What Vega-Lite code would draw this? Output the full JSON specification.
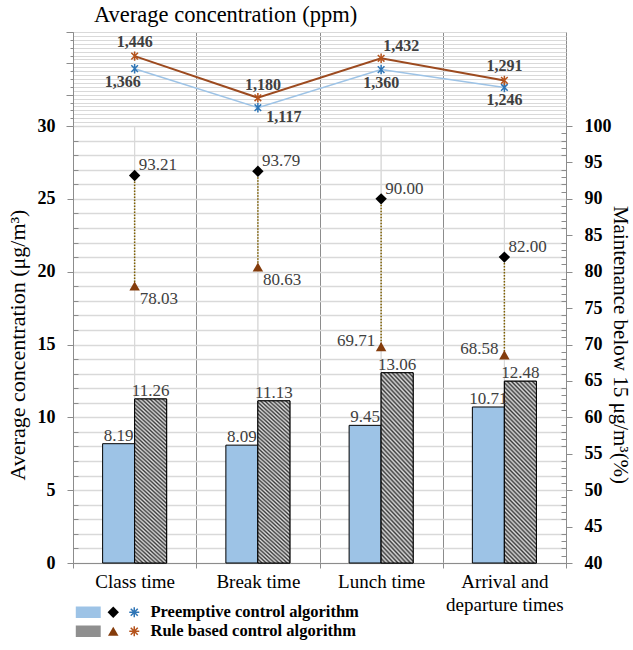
{
  "$schema": "https://vega.github.io/schema/vega-lite/v6.json",
  "padding": {"left": 5, "top": 3, "right": 0, "bottom": 5},
  "bounds": "flush",
  "config": {
    "font": "Liberation Serif",
    "view": {"stroke": "#a6a6a6"},
    "axis": {"labelFont": "Liberation Serif", "titleFont": "Liberation Serif"},
    "legend": {"labelFont": "Liberation Serif", "labelFontSize": 16.5, "labelFontWeight": "bold", "labelColor": "#000000", "rowPadding": 2, "labelLimit": 400}
  },
  "datasets": {
    "vals": [
      {"cat": "Class time", "alg": "Preemptive control algorithm", "pm": 8.19, "pct": 93.21, "ppm": 1366},
      {"cat": "Class time", "alg": "Rule based control algorithm", "pm": 11.26, "pct": 78.03, "ppm": 1446},
      {"cat": "Break time", "alg": "Preemptive control algorithm", "pm": 8.09, "pct": 93.79, "ppm": 1117},
      {"cat": "Break time", "alg": "Rule based control algorithm", "pm": 11.13, "pct": 80.63, "ppm": 1180},
      {"cat": "Lunch time", "alg": "Preemptive control algorithm", "pm": 9.45, "pct": 90.00, "ppm": 1360},
      {"cat": "Lunch time", "alg": "Rule based control algorithm", "pm": 13.06, "pct": 69.71, "ppm": 1432},
      {"cat": "Arrival and departure times", "alg": "Preemptive control algorithm", "pm": 10.71, "pct": 82.00, "ppm": 1246},
      {"cat": "Arrival and departure times", "alg": "Rule based control algorithm", "pm": 12.48, "pct": 68.58, "ppm": 1291}
    ]
  },
  "spacing": 0,
  "vconcat": [
    {
      "width": 493,
      "height": 94,
      "title": {"text": "Average concentration (ppm)", "anchor": "start", "frame": "group", "dx": 21, "fontSize": 22.5, "fontWeight": "normal", "font": "Liberation Serif", "color": "#000000", "offset": 5},
      "data": {"name": "vals"},
      "encoding": {
        "x": {"field": "cat", "type": "nominal", "sort": ["Class time", "Break time", "Lunch time", "Arrival and departure times"],
          "scale": {"type": "band", "paddingInner": 0, "paddingOuter": 0},
          "axis": {"title": null, "labels": false, "ticks": false, "domain": false, "grid": true, "tickBand": "extent", "gridColor": "#8c8c8c"}},
        "y": {"field": "ppm", "type": "quantitative", "scale": {"domain": [1000, 1600], "nice": false, "zero": false},
          "axis": {"title": null, "labels": false, "values": [1000,1025,1050,1075,1100,1125,1150,1175,1200,1225,1250,1275,1300,1325,1350,1375,1400,1425,1450,1475,1500,1525,1550,1575,1600],
            "grid": true, "gridColor": "#d9d9d9", "domainColor": "#8c8c8c", "tickColor": "#8c8c8c",
            "tickSize": {"condition": [{"test": "datum.value % 200 === 0", "value": 7}, {"test": "datum.value % 50 === 0", "value": 3}], "value": 0}}}
      },
      "layer": [
        {"transform": [{"filter": {"field": "alg", "equal": "Preemptive control algorithm"}}],
          "mark": {"type": "line", "color": "#9DC3E6", "strokeWidth": 1.5}},
        {"transform": [{"filter": {"field": "alg", "equal": "Rule based control algorithm"}}],
          "mark": {"type": "line", "color": "#9C4A1F", "strokeWidth": 2}},
        {"mark": {"type": "point", "shape": "M-0.7,-0.7L0.7,0.7M-0.7,0.7L0.7,-0.7M0,-1L0,1", "size": 90, "filled": false, "strokeWidth": 1.5, "opacity": 1},
          "encoding": {"stroke": {"field": "alg", "type": "nominal", "scale": {"range": ["#2E75B6", "#B5531C"]},
            "legend": {"orient": "none", "legendX": 53, "legendY": 572, "title": null, "symbolType": "M-1,0L1,0M0,-1L0,1M-0.7,-0.7L0.7,0.7M-0.7,0.7L0.7,-0.7", "symbolSize": 100, "symbolStrokeWidth": 1.5, "symbolFillColor": "transparent", "labelOffset": 8}}}},
        {"transform": [{"filter": "datum.alg === 'Rule based control algorithm' && (datum.cat === 'Class time' || datum.cat === 'Arrival and departure times')"}],
          "mark": {"type": "text", "fontSize": 16, "fontWeight": "bold", "color": "#404040", "dy": -14},
          "encoding": {"text": {"field": "ppm", "type": "quantitative", "format": ","}}},
        {"transform": [{"filter": "datum.alg === 'Rule based control algorithm' && datum.cat === 'Break time'"}],
          "mark": {"type": "text", "fontSize": 16, "fontWeight": "bold", "color": "#404040", "dy": -13, "dx": 5},
          "encoding": {"text": {"field": "ppm", "type": "quantitative", "format": ","}}},
        {"transform": [{"filter": "datum.alg === 'Rule based control algorithm' && datum.cat === 'Lunch time'"}],
          "mark": {"type": "text", "fontSize": 16, "fontWeight": "bold", "color": "#404040", "dy": -12, "dx": 20},
          "encoding": {"text": {"field": "ppm", "type": "quantitative", "format": ","}}},
        {"transform": [{"filter": "datum.alg === 'Preemptive control algorithm' && (datum.cat === 'Lunch time' || datum.cat === 'Arrival and departure times')"}],
          "mark": {"type": "text", "fontSize": 16, "fontWeight": "bold", "color": "#404040", "dy": 13},
          "encoding": {"text": {"field": "ppm", "type": "quantitative", "format": ","}}},
        {"transform": [{"filter": "datum.alg === 'Preemptive control algorithm' && datum.cat === 'Class time'"}],
          "mark": {"type": "text", "fontSize": 16, "fontWeight": "bold", "color": "#404040", "dy": 13, "dx": -12},
          "encoding": {"text": {"field": "ppm", "type": "quantitative", "format": ","}}},
        {"transform": [{"filter": "datum.alg === 'Preemptive control algorithm' && datum.cat === 'Break time'"}],
          "mark": {"type": "text", "fontSize": 16, "fontWeight": "bold", "color": "#404040", "dy": 9, "dx": 26},
          "encoding": {"text": {"field": "ppm", "type": "quantitative", "format": ","}}}
      ]
    },
    {
      "width": 493,
      "height": 437,
      "data": {"name": "vals"},
      "encoding": {
        "x": {"field": "cat", "type": "nominal", "sort": ["Class time", "Break time", "Lunch time", "Arrival and departure times"],
          "scale": {"type": "band", "paddingInner": 0, "paddingOuter": 0},
          "axis": {"title": null, "labelFontSize": 19, "labelColor": "#000000", "labelPadding": 4, "labelAngle": 0, "labelBaseline": "top", "labelLineHeight": 23,
            "labelExpr": "datum.value === 'Arrival and departure times' ? ['Arrival and', 'departure times'] : datum.value",
            "grid": true, "tickBand": "extent", "gridColor": "#8c8c8c", "ticks": true, "tickSize": 5, "tickColor": "#8c8c8c", "domainColor": "#8c8c8c"}}
      },
      "layer": [
        {"mark": {"type": "rule", "color": "#d9d9d9", "strokeWidth": 1},
          "encoding": {"x": {"field": "cat", "type": "nominal", "sort": ["Class time", "Break time", "Lunch time", "Arrival and departure times"], "bandPosition": 0.5}}},
        {
          "encoding": {
            "y": {"field": "pm", "type": "quantitative", "scale": {"domain": [0, 30], "nice": false},
              "axis": {"orient": "left", "title": "Average concentration (μg/m³)", "titleFontSize": 22, "titleFontWeight": "normal", "titleColor": "#000000", "titlePadding": 8,
                "values": [0,1,2,3,4,5,6,7,8,9,10,11,12,13,14,15,16,17,18,19,20,21,22,23,24,25,26,27,28,29,30],
                "labelExpr": "datum.value % 5 === 0 ? datum.label : ''", "labelOverlap": false, "labelBound": false,
                "labelFontSize": 18, "labelFontWeight": "bold", "labelColor": "#000000", "labelPadding": 12,
                "grid": true, "gridColor": "#d9d9d9", "gridWidth": 1.3, "domainColor": "#8c8c8c", "tickColor": "#8c8c8c",
                "tickSize": {"condition": {"test": "datum.value % 5 === 0", "value": 6}, "value": -5}}},
            "xOffset": {"field": "alg", "type": "nominal", "scale": {"paddingInner": 0, "paddingOuter": 0.925}}
          },
          "layer": [
            {"mark": {"type": "bar", "stroke": "#000000", "strokeWidth": 1},
              "encoding": {
                "fill": {"field": "alg", "type": "nominal", "scale": {"range": ["#9DC3E6", "#8f8f8f"]},
                  "legend": {"orient": "none", "legendX": 7, "legendY": 572, "title": null, "symbolType": "M-2.17,-1H2.17V1H-2.17Z", "symbolSize": 132, "symbolStrokeColor": "#000000", "symbolStrokeWidth": 1, "labelExpr": "''",
                    "encode": {"symbols": {"update": {"fill": [
                      {"test": "datum.value === 'Rule based control algorithm'", "value": {"gradient": "linear", "x1": 1, "y1": 0, "x2": -0.2, "y2": 0.555, "stops": [
                        {"offset": 0, "color": "#3c3c3c"}, {"offset": 0.05, "color": "#dcdcdc"}, {"offset": 0.1, "color": "#3c3c3c"}, {"offset": 0.15, "color": "#dcdcdc"}, {"offset": 0.2, "color": "#3c3c3c"}, {"offset": 0.25, "color": "#dcdcdc"}, {"offset": 0.3, "color": "#3c3c3c"}, {"offset": 0.35, "color": "#dcdcdc"}, {"offset": 0.4, "color": "#3c3c3c"}, {"offset": 0.45, "color": "#dcdcdc"}, {"offset": 0.5, "color": "#3c3c3c"}, {"offset": 0.55, "color": "#dcdcdc"}, {"offset": 0.6, "color": "#3c3c3c"}, {"offset": 0.65, "color": "#dcdcdc"}, {"offset": 0.7, "color": "#3c3c3c"}, {"offset": 0.75, "color": "#dcdcdc"}, {"offset": 0.8, "color": "#3c3c3c"}, {"offset": 0.85, "color": "#dcdcdc"}, {"offset": 0.9, "color": "#3c3c3c"}, {"offset": 0.95, "color": "#dcdcdc"}, {"offset": 1, "color": "#3c3c3c"}]}},
                      {"value": "#9DC3E6"}]}}}}}
              }},
            {"transform": [{"filter": {"field": "alg", "equal": "Rule based control algorithm"}}],
              "mark": {"type": "bar", "stroke": "#000000", "strokeWidth": 1,
                "fill": {"gradient": "linear", "x1": 1, "y1": 0, "x2": 0.794, "y2": 1.143, "stops": [
                    {"offset": 0, "color": "#3c3c3c"}, {"offset": 0.01, "color": "#dcdcdc"}, {"offset": 0.02, "color": "#3c3c3c"}, {"offset": 0.03, "color": "#dcdcdc"}, {"offset": 0.04, "color": "#3c3c3c"}, {"offset": 0.05, "color": "#dcdcdc"}, {"offset": 0.06, "color": "#3c3c3c"}, {"offset": 0.07, "color": "#dcdcdc"}, {"offset": 0.08, "color": "#3c3c3c"}, {"offset": 0.09, "color": "#dcdcdc"},
                    {"offset": 0.10, "color": "#3c3c3c"}, {"offset": 0.11, "color": "#dcdcdc"}, {"offset": 0.12, "color": "#3c3c3c"}, {"offset": 0.13, "color": "#dcdcdc"}, {"offset": 0.14, "color": "#3c3c3c"}, {"offset": 0.15, "color": "#dcdcdc"}, {"offset": 0.16, "color": "#3c3c3c"}, {"offset": 0.17, "color": "#dcdcdc"}, {"offset": 0.18, "color": "#3c3c3c"}, {"offset": 0.19, "color": "#dcdcdc"},
                    {"offset": 0.20, "color": "#3c3c3c"}, {"offset": 0.21, "color": "#dcdcdc"}, {"offset": 0.22, "color": "#3c3c3c"}, {"offset": 0.23, "color": "#dcdcdc"}, {"offset": 0.24, "color": "#3c3c3c"}, {"offset": 0.25, "color": "#dcdcdc"}, {"offset": 0.26, "color": "#3c3c3c"}, {"offset": 0.27, "color": "#dcdcdc"}, {"offset": 0.28, "color": "#3c3c3c"}, {"offset": 0.29, "color": "#dcdcdc"},
                    {"offset": 0.30, "color": "#3c3c3c"}, {"offset": 0.31, "color": "#dcdcdc"}, {"offset": 0.32, "color": "#3c3c3c"}, {"offset": 0.33, "color": "#dcdcdc"}, {"offset": 0.34, "color": "#3c3c3c"}, {"offset": 0.35, "color": "#dcdcdc"}, {"offset": 0.36, "color": "#3c3c3c"}, {"offset": 0.37, "color": "#dcdcdc"}, {"offset": 0.38, "color": "#3c3c3c"}, {"offset": 0.39, "color": "#dcdcdc"},
                    {"offset": 0.40, "color": "#3c3c3c"}, {"offset": 0.41, "color": "#dcdcdc"}, {"offset": 0.42, "color": "#3c3c3c"}, {"offset": 0.43, "color": "#dcdcdc"}, {"offset": 0.44, "color": "#3c3c3c"}, {"offset": 0.45, "color": "#dcdcdc"}, {"offset": 0.46, "color": "#3c3c3c"}, {"offset": 0.47, "color": "#dcdcdc"}, {"offset": 0.48, "color": "#3c3c3c"}, {"offset": 0.49, "color": "#dcdcdc"},
                    {"offset": 0.50, "color": "#3c3c3c"}, {"offset": 0.51, "color": "#dcdcdc"}, {"offset": 0.52, "color": "#3c3c3c"}, {"offset": 0.53, "color": "#dcdcdc"}, {"offset": 0.54, "color": "#3c3c3c"}, {"offset": 0.55, "color": "#dcdcdc"}, {"offset": 0.56, "color": "#3c3c3c"}, {"offset": 0.57, "color": "#dcdcdc"}, {"offset": 0.58, "color": "#3c3c3c"}, {"offset": 0.59, "color": "#dcdcdc"},
                    {"offset": 0.60, "color": "#3c3c3c"}, {"offset": 0.61, "color": "#dcdcdc"}, {"offset": 0.62, "color": "#3c3c3c"}, {"offset": 0.63, "color": "#dcdcdc"}, {"offset": 0.64, "color": "#3c3c3c"}, {"offset": 0.65, "color": "#dcdcdc"}, {"offset": 0.66, "color": "#3c3c3c"}, {"offset": 0.67, "color": "#dcdcdc"}, {"offset": 0.68, "color": "#3c3c3c"}, {"offset": 0.69, "color": "#dcdcdc"},
                    {"offset": 0.70, "color": "#3c3c3c"}, {"offset": 0.71, "color": "#dcdcdc"}, {"offset": 0.72, "color": "#3c3c3c"}, {"offset": 0.73, "color": "#dcdcdc"}, {"offset": 0.74, "color": "#3c3c3c"}, {"offset": 0.75, "color": "#dcdcdc"}, {"offset": 0.76, "color": "#3c3c3c"}, {"offset": 0.77, "color": "#dcdcdc"}, {"offset": 0.78, "color": "#3c3c3c"}, {"offset": 0.79, "color": "#dcdcdc"},
                    {"offset": 0.80, "color": "#3c3c3c"}, {"offset": 0.81, "color": "#dcdcdc"}, {"offset": 0.82, "color": "#3c3c3c"}, {"offset": 0.83, "color": "#dcdcdc"}, {"offset": 0.84, "color": "#3c3c3c"}, {"offset": 0.85, "color": "#dcdcdc"}, {"offset": 0.86, "color": "#3c3c3c"}, {"offset": 0.87, "color": "#dcdcdc"}, {"offset": 0.88, "color": "#3c3c3c"}, {"offset": 0.89, "color": "#dcdcdc"},
                    {"offset": 0.90, "color": "#3c3c3c"}, {"offset": 0.91, "color": "#dcdcdc"}, {"offset": 0.92, "color": "#3c3c3c"}, {"offset": 0.93, "color": "#dcdcdc"}, {"offset": 0.94, "color": "#3c3c3c"}, {"offset": 0.95, "color": "#dcdcdc"}, {"offset": 0.96, "color": "#3c3c3c"}, {"offset": 0.97, "color": "#dcdcdc"}, {"offset": 0.98, "color": "#3c3c3c"}, {"offset": 0.99, "color": "#dcdcdc"},
                    {"offset": 1, "color": "#3c3c3c"}]}}},
            {"mark": {"type": "text", "fontSize": 17, "color": "#404040", "baseline": "alphabetic", "dy": -3},
              "encoding": {"text": {"field": "pm", "type": "quantitative", "format": ".2f"}}}
          ]
        },
        {
          "encoding": {
            "y": {"field": "pct", "type": "quantitative", "scale": {"domain": [40, 100], "nice": false, "zero": false},
              "axis": {"orient": "right", "title": "Maintenance below 15 μg/m³(%)", "titleFontSize": 21, "titleFontWeight": "normal", "titleColor": "#000000", "titlePadding": -2,
                "values": [40,41,42,43,44,45,46,47,48,49,50,51,52,53,54,55,56,57,58,59,60,61,62,63,64,65,66,67,68,69,70,71,72,73,74,75,76,77,78,79,80,81,82,83,84,85,86,87,88,89,90,91,92,93,94,95,96,97,98,99,100],
                "labelExpr": "datum.value % 5 === 0 ? datum.label : ''", "labelOverlap": false, "labelBound": false,
                "labelFontSize": 18, "labelFontWeight": "bold", "labelColor": "#000000", "labelPadding": 12,
                "grid": false, "domainColor": "#8c8c8c", "tickColor": "#8c8c8c",
                "tickSize": {"condition": {"test": "datum.value % 5 === 0", "value": 6}, "value": -5}}}
          },
          "layer": [
            {"mark": {"type": "rule", "color": "#7F6000", "strokeWidth": 1.5, "strokeDash": [1.5, 1.5]},
              "encoding": {
                "y": {"aggregate": "max", "field": "pct", "type": "quantitative"},
                "y2": {"aggregate": "min", "field": "pct"}
              }},
            {"mark": {"type": "point", "filled": true, "opacity": 1},
              "encoding": {
                "shape": {"field": "alg", "type": "nominal", "scale": {"range": ["diamond", "triangle-up"]},
                  "legend": {"orient": "none", "legendX": 32, "legendY": 572, "title": null, "symbolSize": 110, "labelExpr": "''"}},
                "color": {"field": "alg", "type": "nominal", "scale": {"range": ["#000000", "#843C0C"]},
                  "legend": {"orient": "none", "legendX": 32, "legendY": 572, "title": null, "symbolSize": 110, "labelExpr": "''"}},
                "size": {"field": "alg", "type": "nominal", "scale": {"range": [130, 110]}, "legend": null}
              }},
            {"transform": [{"filter": {"field": "alg", "equal": "Preemptive control algorithm"}}],
              "mark": {"type": "text", "fontSize": 17, "color": "#404040", "align": "left", "dx": 4, "dy": -10},
              "encoding": {"text": {"field": "pct", "type": "quantitative", "format": ".2f"}}},
            {"transform": [{"filter": "datum.alg === 'Rule based control algorithm' && (datum.cat === 'Class time' || datum.cat === 'Break time')"}],
              "mark": {"type": "text", "fontSize": 17, "color": "#404040", "align": "left", "dx": 5, "dy": 13},
              "encoding": {"text": {"field": "pct", "type": "quantitative", "format": ".2f"}}},
            {"transform": [{"filter": "datum.alg === 'Rule based control algorithm' && (datum.cat === 'Lunch time' || datum.cat === 'Arrival and departure times')"}],
              "mark": {"type": "text", "fontSize": 17, "color": "#404040", "align": "right", "dx": -6, "dy": -6},
              "encoding": {"text": {"field": "pct", "type": "quantitative", "format": ".2f"}}}
          ]
        }
      ],
      "resolve": {"scale": {"y": "independent"}}
    }
  ]
}
